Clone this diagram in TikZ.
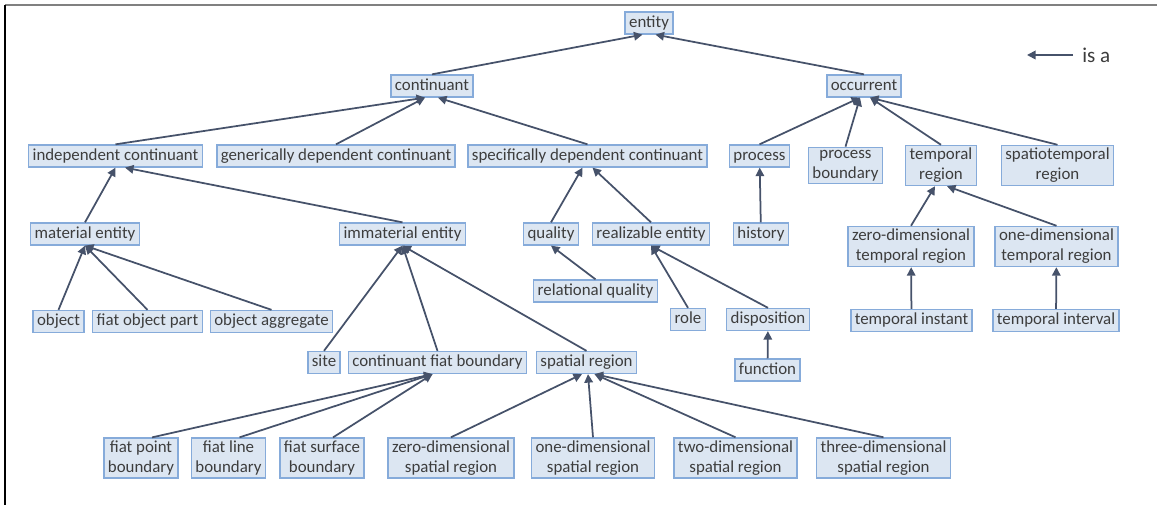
\documentclass[tikz,border=0pt]{standalone}
\usepackage{fontspec}
\setmainfont{Carlito}
\usetikzlibrary{arrows.meta}
\definecolor{boxfill}{HTML}{DCE6F2}
\definecolor{boxline}{HTML}{86ABDA}
\definecolor{isaline}{HTML}{46526A}
\definecolor{textgray}{HTML}{3D3D3D}
\begin{document}
\begin{tikzpicture}[x=0.2mm, y=-0.2mm, >={Triangle[length=1.7mm,width=1.7mm]}]
    \tikzstyle{box}=[draw=boxline, fill=boxfill, line width=0.3mm, text=textgray, font=\fontsize{9.6}{11.4}\selectfont, inner xsep=0.8mm, inner ysep=1.5pt]
    \tikzstyle{cls}=[box, text height=7pt, text depth=2.4pt]
    \tikzstyle{cls2}=[box, align=center]
    \tikzstyle{isa}=[->, draw=isaline, line width=0.35mm]
    \useasboundingbox (0,0) rectangle (1157,505);
    \draw [gray, line width=0.4mm] (5,5) -- (1157,5);
    \draw [black, line width=0.4mm] (5,5) -- (5,505);

    % top levels
    \node (entity) [cls] at (649,23) {entity};
    \node (continuant) [cls] at (432,86) {continuant};
    \node (occurrent) [cls] at (864,86) {occurrent};

    % continuant side
    \node (indcont) [cls] at (115.5,156) {independent continuant};
    \node (gdc) [cls] at (336,156) {generically dependent continuant};
    \node (sdc) [cls] at (587.5,156) {specifically dependent continuant};
    \node (material) [cls] at (85,234) {material entity};
    \node (immaterial) [cls] at (402.5,234) {immaterial entity};
    \node (quality) [cls] at (551,234) {quality};
    \node (realizable) [cls] at (651,234) {realizable entity};
    \node (relquality) [cls] at (595.5,291) {relational quality};
    \node (object) [cls] at (58.5,321.5) {object};
    \node (fop) [cls] at (147.5,321.5) {fiat object part};
    \node (objagg) [cls] at (271.5,321.5) {object aggregate};
    \node (role) [cls] at (688,319.5) {role};
    \node (disposition) [cls] at (768,319.5) {disposition};
    \node (function) [cls] at (767.5,370) {function};
    \node (site) [cls] at (324,362.5) {site};
    \node (cfb) [cls] at (437.5,362.5) {continuant fiat boundary};
    \node (spatial) [cls] at (586.5,362.5) {spatial region};
    \node (fpb) [cls2] at (141,458) {fiat point\\boundary};
    \node (flb) [cls2] at (228.5,458) {fiat line\\boundary};
    \node (fsb) [cls2] at (322,458) {fiat surface\\boundary};
    \node (zdsr) [cls2] at (451,458) {zero-dimensional\\spatial region};
    \node (odsr) [cls2] at (593,458) {one-dimensional\\spatial region};
    \node (twdsr) [cls2] at (735.5,458) {two-dimensional\\spatial region};
    \node (thdsr) [cls2] at (883.5,458) {three-dimensional\\spatial region};

    % occurrent side
    \node (process) [cls] at (759.5,156) {process};
    \node (procbound) [cls2] at (845.5,165.5) {process\\boundary};
    \node (tempreg) [cls2] at (941,165.5) {temporal\\region};
    \node (stempreg) [cls2] at (1057.5,165.5) {spatiotemporal\\region};
    \node (history) [cls] at (761,234) {history};
    \node (zdtr) [cls2] at (911,246.5) {zero-dimensional\\temporal region};
    \node (odtr) [cls2] at (1056.5,246.5) {one-dimensional\\temporal region};
    \node (tinstant) [cls] at (911.5,320.5) {temporal instant};
    \node (tinterval) [cls] at (1056,320.5) {temporal interval};

    % key
    \coordinate (keytail) at (1073,55);
    \coordinate (keyhead) at (1027,55);
    \draw [isa] (keytail) -- (keyhead);
    \node (keytext) [text=textgray, font=\fontsize{12}{14}\selectfont, anchor=west, inner sep=0pt] at (1082,55) {is a};

    \draw [isa] (continuant.north) to ([xshift=-1.3mm]entity.south);
    \draw [isa] (occurrent.north) to ([xshift=1.3mm]entity.south);
    \draw [isa] (indcont.north) to ([xshift=-1.4mm]continuant.south);
    \draw [isa] (gdc.north) to ([xshift=-1.4mm]continuant.south);
    \draw [isa] (sdc.north) to ([xshift=1.2mm]continuant.south);
    \draw [isa] (material.north) to (indcont.south);
    \draw [isa] (immaterial.north) to ([xshift=1.9mm]indcont.south);
    \draw [isa] (object.north) to (material.south);
    \draw [isa] (fop.north) to (material.south);
    \draw [isa] (objagg.north) to (material.south);
    \draw [isa] (site.north) to (immaterial.south);
    \draw [isa] (cfb.north) to (immaterial.south);
    \draw [isa] (spatial.north) to (immaterial.south);
    \draw [isa] ([xshift=2.2mm]fpb.north) to ([xshift=-1mm]cfb.south);
    \draw [isa] ([xshift=2.2mm]flb.north) to ([xshift=-1mm]cfb.south);
    \draw [isa] ([xshift=2.2mm]fsb.north) to ([xshift=-1mm]cfb.south);
    \draw [isa] (zdsr.north) to ([xshift=-0.9mm]spatial.south);
    \draw [isa] (odsr.north) to ([xshift=0.3mm]spatial.south);
    \draw [isa] (twdsr.north) to ([xshift=1.6mm]spatial.south);
    \draw [isa] (thdsr.north) to ([xshift=1.6mm]spatial.south);
    \draw [isa] (quality.north) to ([xshift=-1mm]sdc.south);
    \draw [isa] (realizable.north) to ([xshift=1mm]sdc.south);
    \draw [isa] (relquality.north) to (quality.south);
    \draw [isa] (role.north) to (realizable.south);
    \draw [isa] (disposition.north) to (realizable.south);
    \draw [isa] (function) to (disposition);
    \draw [isa] (process.north) to ([xshift=-0.8mm]occurrent.south);
    \draw [isa] (procbound.north) to ([xshift=-0.8mm]occurrent.south);
    \draw [isa] (tempreg.north) to ([xshift=1.2mm]occurrent.south);
    \draw [isa] (stempreg.north) to ([xshift=1.2mm]occurrent.south);
    \draw [isa] (history) to (process);
    \draw [isa] (zdtr.north) to ([xshift=-1.2mm]tempreg.south);
    \draw [isa] (odtr.north) to ([xshift=1.2mm]tempreg.south);
    \draw [isa] (tinstant) to (zdtr);
    \draw [isa] (tinterval) to (odtr);
\end{tikzpicture}
\end{document}
